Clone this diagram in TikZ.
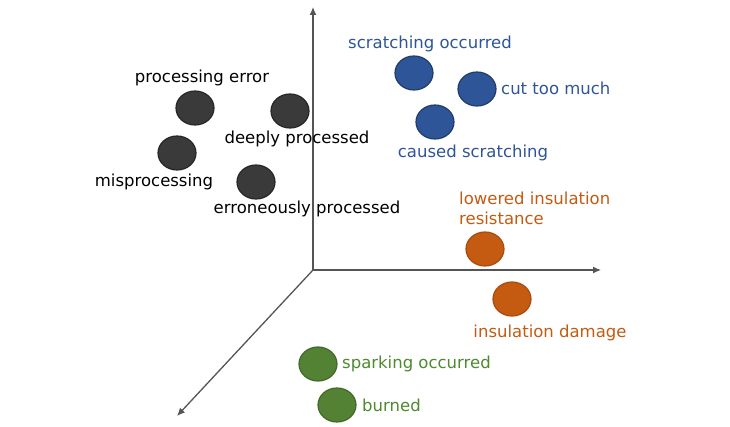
\documentclass[tikz,border=0pt]{standalone}
\usepackage{fontspec}
\setmainfont{DejaVu Sans}
\usetikzlibrary{shapes.geometric,arrows.meta}
\definecolor{dotblack}{HTML}{3A3A3A}
\definecolor{dotblue}{HTML}{2E5597}
\definecolor{txtblue}{HTML}{2F5597}
\definecolor{dotorange}{HTML}{C55A11}
\definecolor{dotgreen}{HTML}{548235}
\definecolor{txtgreen}{HTML}{4E8A2E}
\definecolor{axisgray}{HTML}{555555}
\tikzset{
  dot/.style={ellipse, minimum width=38pt, minimum height=34pt, inner sep=0pt, line width=1.2pt},
  kdot/.style={dot, fill=dotblack, draw=black!85},
  bdot/.style={dot, fill=dotblue, draw=dotblue!70!black},
  odot/.style={dot, fill=dotorange, draw=dotorange!85!black},
  gdot/.style={dot, fill=dotgreen, draw=dotgreen!80!black},
  lbl/.style={inner sep=0pt, font=\fontsize{16.5}{20}\selectfont},
  axis/.style={draw=axisgray, line width=1.3pt, -{Latex[length=8pt,width=7pt]}}
}
\begin{document}
\begin{tikzpicture}[x=1pt,y=-1pt]
\useasboundingbox[fill=white] (0,0) rectangle (730,427);
% axes
\coordinate (O) at (313,270);
\coordinate (ytop) at (313,7);
\coordinate (xend) at (601,270);
\coordinate (zend) at (177,416);
\draw[axis] (O) -- (ytop);
\draw[axis] (O) -- (xend);
\draw[axis] (O) -- (zend);
% black group
\node[kdot] (pe) at (195,108) {};
\node[kdot] (dp) at (290,111) {};
\node[kdot] (mp) at (177,153) {};
\node[kdot] (ep) at (256,182) {};
\node[lbl] (pel) at (202,78) {processing error};
\node[lbl] (dpl) at (297,139) {deeply processed};
\node[lbl] (mpl) at (154,182) {misprocessing};
\node[lbl] (epl) at (307,209) {erroneously processed};
% blue group
\node[bdot] (so) at (414,73) {};
\node[bdot] (ct) at (477,89) {};
\node[bdot] (cs) at (435,122) {};
\node[lbl, text=txtblue] (sol) at (430,44) {scratching occurred};
\node[lbl, text=txtblue, anchor=west] (ctl) at (501,88) {cut too much};
\node[lbl, text=txtblue] (csl) at (473,153) {caused scratching};
% orange group
\node[odot] (lir) at (485,249) {};
\node[odot] (id) at (512,299) {};
\node[lbl, text=dotorange, anchor=west, align=left] (lirl) at (459,208) {lowered insulation\\resistance};
\node[lbl, text=dotorange] (idl) at (550,333) {insulation damage};
% green group
\node[gdot] (sp) at (318,364) {};
\node[gdot] (bu) at (337,405) {};
\node[lbl, text=txtgreen, anchor=west] (spl) at (342,364) {sparking occurred};
\node[lbl, text=txtgreen, anchor=west] (bul) at (362,405) {burned};
\end{tikzpicture}
\end{document}
